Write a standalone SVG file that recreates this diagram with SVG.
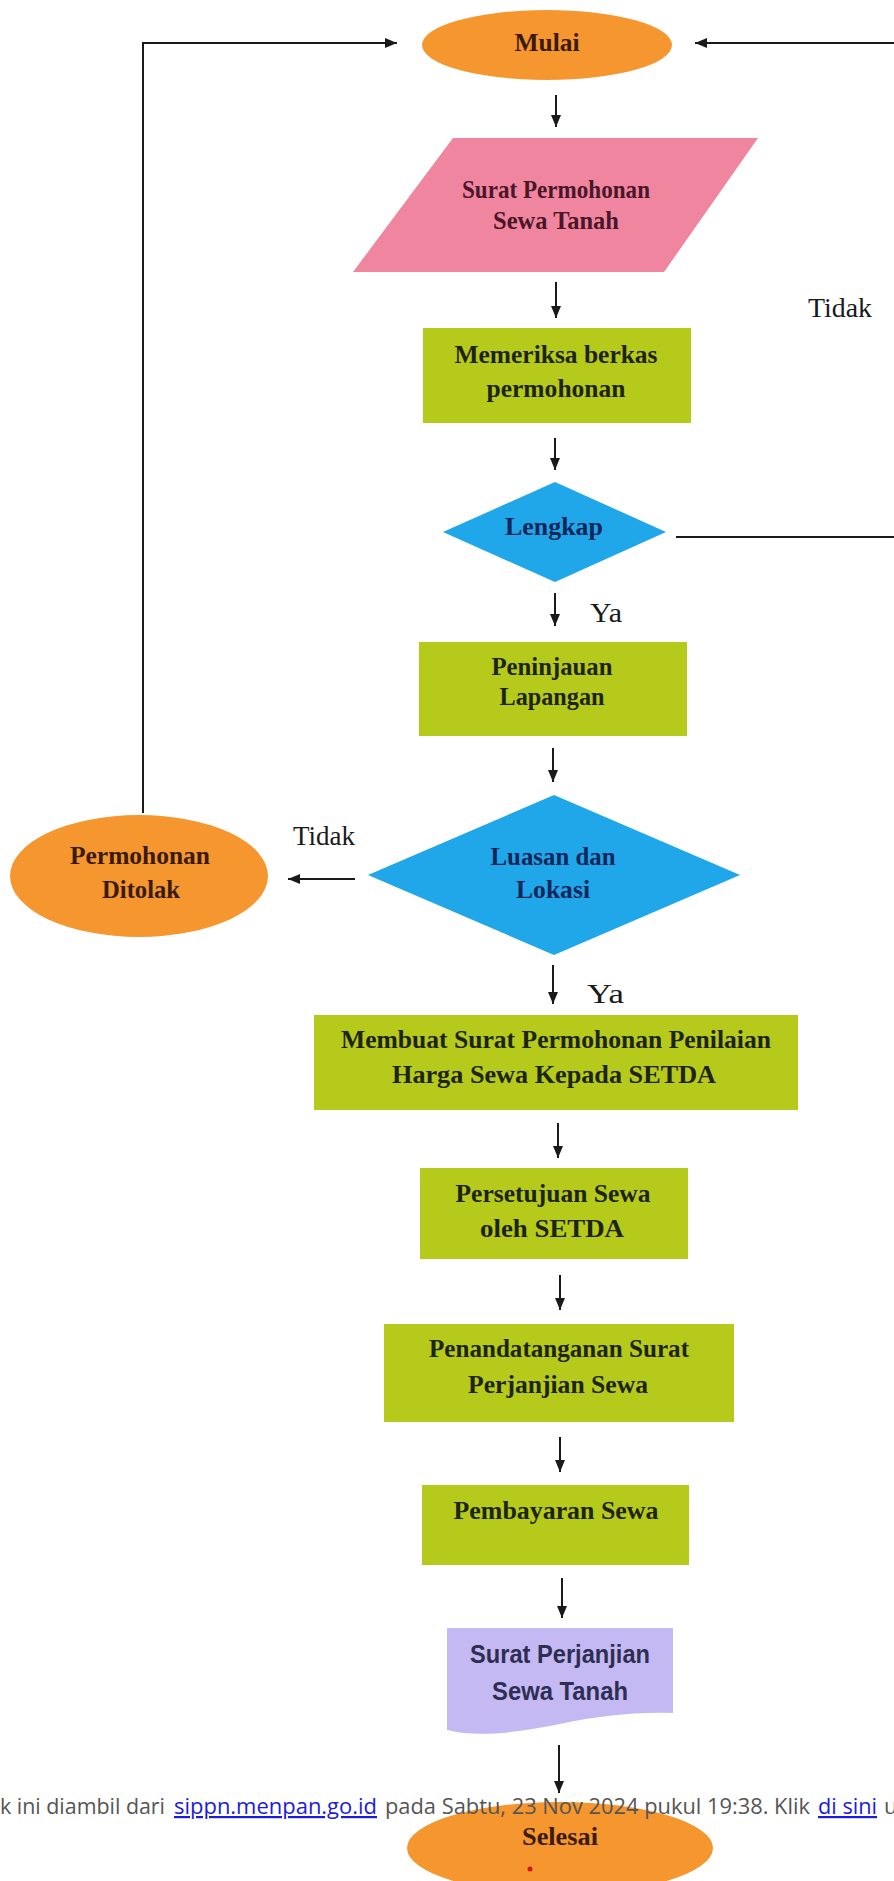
<svg xmlns="http://www.w3.org/2000/svg" width="894" height="1881" viewBox="0 0 894 1881">
<defs>
<marker id="ah" viewBox="0 0 12 10" refX="12" refY="5" markerWidth="12" markerHeight="10" markerUnits="userSpaceOnUse" orient="auto">
<path d="M0,0 L12,5 L0,10 z" fill="#1a1a1a"/>
</marker>
<style>
.orange{fill:#f5962f;}
.pink{fill:#f0859f;}
.green{fill:#b5ca1b;}
.blue{fill:#1fa7ea;}
.purple{fill:#c4b9f2;}
.t{font-family:"Liberation Serif","Times New Roman",serif;font-size:26px;font-weight:bold;text-anchor:middle;}
.to{fill:#3a1a08;}
.tp{fill:#4a1628;}
.tg{fill:#1d2410;}
.tb{fill:#12265a;}
.tv{font-family:"Liberation Sans Narrow","Liberation Sans",Arial,sans-serif;font-size:25px;font-weight:bold;text-anchor:middle;fill:#2e2e52;}
.lbl{font-family:"Liberation Serif","Times New Roman",serif;font-size:28px;fill:#1a1a1a;}
.c{fill:none;stroke:#1a1a1a;stroke-width:2;}
.foot{font-family:"Open Sans","Noto Sans",sans-serif;font-size:22px;fill:#555555;}
.link{fill:#1a1ae0;text-decoration:underline;}
</style>
</defs>
<rect width="894" height="1881" fill="#ffffff"/>

<g id="connectors">
<polyline class="c" points="143,813 143,43 397,43" marker-end="url(#ah)"/>
<line class="c" x1="894" y1="43" x2="695" y2="43" marker-end="url(#ah)"/>
<line class="c" x1="676" y1="537" x2="894" y2="537"/>
<line class="c" x1="556" y1="95" x2="556" y2="127" marker-end="url(#ah)"/>
<line class="c" x1="556" y1="282" x2="556" y2="318" marker-end="url(#ah)"/>
<line class="c" x1="555" y1="438" x2="555" y2="470" marker-end="url(#ah)"/>
<line class="c" x1="555" y1="593" x2="555" y2="626" marker-end="url(#ah)"/>
<line class="c" x1="553" y1="748" x2="553" y2="782" marker-end="url(#ah)"/>
<line class="c" x1="355" y1="879" x2="288" y2="879" marker-end="url(#ah)"/>
<line class="c" x1="553" y1="965" x2="553" y2="1004" marker-end="url(#ah)"/>
<line class="c" x1="558" y1="1123" x2="558" y2="1158" marker-end="url(#ah)"/>
<line class="c" x1="560" y1="1275" x2="560" y2="1310" marker-end="url(#ah)"/>
<line class="c" x1="560" y1="1437" x2="560" y2="1472" marker-end="url(#ah)"/>
<line class="c" x1="562" y1="1578" x2="562" y2="1618" marker-end="url(#ah)"/>
<line class="c" x1="559" y1="1745" x2="559" y2="1793" marker-end="url(#ah)"/>
<text class="lbl" x="808" y="317" textLength="64" lengthAdjust="spacingAndGlyphs">Tidak</text>
<text class="lbl" x="590" y="622" textLength="32" lengthAdjust="spacingAndGlyphs">Ya</text>
<text class="lbl" x="293" y="845" textLength="62" lengthAdjust="spacingAndGlyphs">Tidak</text>
<text class="lbl" x="587" y="1003" textLength="37" lengthAdjust="spacingAndGlyphs">Ya</text>
</g>

<g id="mulai">
<ellipse class="orange" cx="547" cy="45" rx="125" ry="35"/>
<text class="t to" x="547" y="51" textLength="65" lengthAdjust="spacingAndGlyphs">Mulai</text>
</g>

<g id="surat-permohonan">
<polygon class="pink" points="453,138 758,138 664,272 353,272"/>
<text class="t tp" x="556" y="198" textLength="188" lengthAdjust="spacingAndGlyphs">Surat Permohonan</text>
<text class="t tp" x="556" y="229" textLength="126" lengthAdjust="spacingAndGlyphs">Sewa Tanah</text>
</g>

<g id="memeriksa">
<rect class="green" x="423" y="328" width="268" height="95"/>
<text class="t tg" x="556" y="363" textLength="203" lengthAdjust="spacingAndGlyphs">Memeriksa berkas</text>
<text class="t tg" x="556" y="397" textLength="139" lengthAdjust="spacingAndGlyphs">permohonan</text>
</g>

<g id="lengkap">
<polygon class="blue" points="555,482 666,532 555,582 443,532"/>
<text class="t tb" x="554" y="535" textLength="98" lengthAdjust="spacingAndGlyphs">Lengkap</text>
</g>

<g id="peninjauan">
<rect class="green" x="419" y="642" width="268" height="94"/>
<text class="t tg" x="552" y="675" textLength="121" lengthAdjust="spacingAndGlyphs">Peninjauan</text>
<text class="t tg" x="552" y="705" textLength="105" lengthAdjust="spacingAndGlyphs">Lapangan</text>
</g>

<g id="luasan">
<polygon class="blue" points="554,795 740,875 554,955 368,875"/>
<text class="t tb" x="553" y="865" textLength="125" lengthAdjust="spacingAndGlyphs">Luasan dan</text>
<text class="t tb" x="553" y="898" textLength="74" lengthAdjust="spacingAndGlyphs">Lokasi</text>
</g>

<g id="ditolak">
<ellipse class="orange" cx="139" cy="876" rx="129" ry="61"/>
<text class="t to" x="140" y="864" textLength="140" lengthAdjust="spacingAndGlyphs">Permohonan</text>
<text class="t to" x="141" y="898" textLength="78" lengthAdjust="spacingAndGlyphs">Ditolak</text>
</g>

<g id="membuat">
<rect class="green" x="314" y="1015" width="484" height="95"/>
<text class="t tg" x="556" y="1048" textLength="430" lengthAdjust="spacingAndGlyphs">Membuat Surat Permohonan Penilaian</text>
<text class="t tg" x="554" y="1083" textLength="324" lengthAdjust="spacingAndGlyphs">Harga Sewa Kepada SETDA</text>
</g>

<g id="persetujuan">
<rect class="green" x="420" y="1168" width="268" height="91"/>
<text class="t tg" x="553" y="1202" textLength="195" lengthAdjust="spacingAndGlyphs">Persetujuan Sewa</text>
<text class="t tg" x="552" y="1237" textLength="144" lengthAdjust="spacingAndGlyphs">oleh SETDA</text>
</g>

<g id="penandatanganan">
<rect class="green" x="384" y="1324" width="350" height="98"/>
<text class="t tg" x="559" y="1357" textLength="260" lengthAdjust="spacingAndGlyphs">Penandatanganan Surat</text>
<text class="t tg" x="558" y="1393" textLength="180" lengthAdjust="spacingAndGlyphs">Perjanjian Sewa</text>
</g>

<g id="pembayaran">
<rect class="green" x="422" y="1485" width="267" height="80"/>
<text class="t tg" x="556" y="1519" textLength="205" lengthAdjust="spacingAndGlyphs">Pembayaran Sewa</text>
</g>

<g id="surat-perjanjian">
<path class="purple" d="M447,1628 H673 V1713 C630,1712 600,1716 560,1724 C520,1732 480,1738 447,1730 Z"/>
<text class="tv" x="560" y="1663" textLength="180" lengthAdjust="spacingAndGlyphs">Surat Perjanjian</text>
<text class="tv" x="560" y="1700" textLength="136" lengthAdjust="spacingAndGlyphs">Sewa Tanah</text>
</g>

<g id="selesai">
<ellipse class="orange" cx="560" cy="1848" rx="153" ry="46"/>
<text class="t to" x="560" y="1845" textLength="76" lengthAdjust="spacingAndGlyphs">Selesai</text>
<circle cx="530" cy="1869" r="2.5" fill="#d8141a"/>
</g>

<g id="footer">
<text class="foot" x="0" y="1814" textLength="165" lengthAdjust="spacingAndGlyphs">k ini diambil dari</text>
<text class="foot link" x="174" y="1814" textLength="203" lengthAdjust="spacingAndGlyphs">sippn.menpan.go.id</text>
<text class="foot" x="385" y="1814" textLength="425" lengthAdjust="spacingAndGlyphs">pada Sabtu, 23 Nov 2024 pukul 19:38. Klik</text>
<text class="foot link" x="818" y="1814" textLength="59" lengthAdjust="spacingAndGlyphs">di sini</text>
<text class="foot" x="884" y="1814">u</text>
</g>
</svg>
